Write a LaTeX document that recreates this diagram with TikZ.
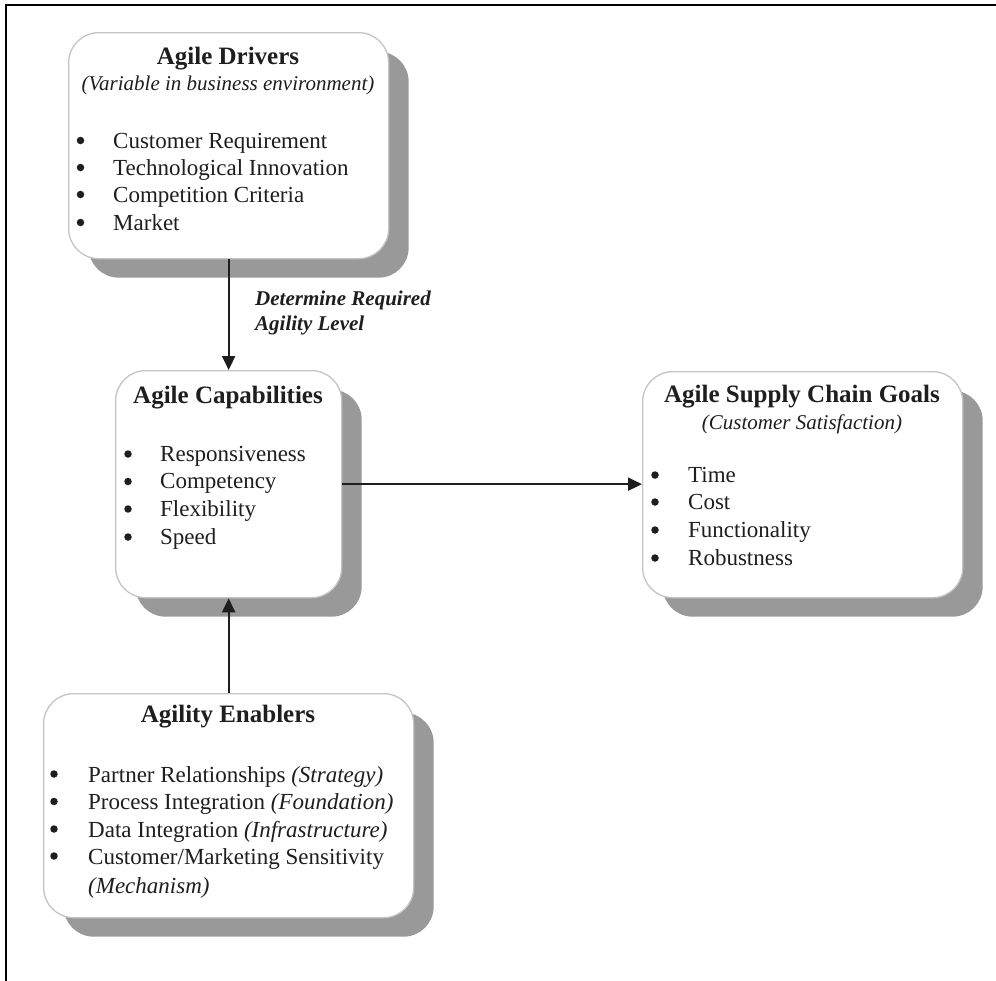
\documentclass[tikz,border=0pt]{standalone}
\usepackage{fontspec}
\setmainfont{Liberation Serif}
\usetikzlibrary{shadows,arrows.meta}

\definecolor{ink}{HTML}{1E1E1E}
\definecolor{edgegray}{HTML}{C4C4C4}
\definecolor{shadegray}{HTML}{999999}

\tikzset{
  panel/.style={draw=edgegray, line width=1.3pt, fill=white, rounded corners=30pt,
    anchor=north west, inner sep=0pt,
    drop shadow={shadow xshift=20pt, shadow yshift=-19pt, fill=shadegray, opacity=1}},
  heading/.style={font=\bfseries\fontsize{25}{30}\selectfont, text=ink, anchor=base, inner sep=0pt},
  subhead/.style={font=\itshape\fontsize{21}{25}\selectfont, text=ink, anchor=base, inner sep=0pt},
  item/.style={font=\fontsize{23}{28}\selectfont, text=ink, anchor=base west, inner sep=0pt},
  dot/.style={circle, fill=ink, minimum size=7.5pt, inner sep=0pt},
  note/.style={font=\bfseries\itshape\fontsize{21}{25}\selectfont, text=ink, anchor=mid west, inner sep=0pt},
  link/.style={draw=ink, line width=2pt, -{Triangle[length=14pt,width=13pt]}}
}

\begin{document}
\begin{tikzpicture}[x=1pt,y=-1pt]
\useasboundingbox (0,0) rectangle (996,980);

% outer frame (left and top edges)
\draw[black, line width=2.5pt] (6,985) -- (6,5) -- (1001,5);

% panels
\node[panel, minimum width=320pt, minimum height=226pt] (drivers) at (68,32) {};
\node[panel, minimum width=226pt, minimum height=227pt] (caps) at (115,370) {};
\node[panel, minimum width=320pt, minimum height=226pt] (goals) at (642,371) {};
\node[panel, minimum width=370pt, minimum height=224pt] (enablers) at (43,693) {};

% Agile Drivers
\node[heading] (dh) at (228,64) {Agile Drivers};
\node[subhead] (ds) at (228,90) {(Variable in business environment)};
\node[dot] (db1) at (80.5,140.5) {}; \node[item] (d1) at (113,148) {Customer Requirement};
\node[dot] (db2) at (80.5,167.5) {}; \node[item] (d2) at (113,175) {Technological Innovation};
\node[dot] (db3) at (80.5,194.5) {}; \node[item] (d3) at (113,202) {Competition Criteria};
\node[dot] (db4) at (80.5,222.5) {}; \node[item] (d4) at (113,230) {Market};

% Agile Capabilities
\node[heading] (ch) at (228,403) {Agile Capabilities};
\node[dot] (cb1) at (128,454) {}; \node[item] (c1) at (160,461) {Responsiveness};
\node[dot] (cb2) at (128,481.5) {}; \node[item] (c2) at (160,488.5) {Competency};
\node[dot] (cb3) at (128,509) {}; \node[item] (c3) at (160,516) {Flexibility};
\node[dot] (cb4) at (128,537) {}; \node[item] (c4) at (160,544) {Speed};

% Agile Supply Chain Goals
\node[heading] (gh) at (802,402) {Agile Supply Chain Goals};
\node[subhead] (gs) at (802,429) {(Customer Satisfaction)};
\node[dot] (gb1) at (655,475) {}; \node[item] (g1) at (688,482) {Time};
\node[dot] (gb2) at (655,502) {}; \node[item] (g2) at (688,509) {Cost};
\node[dot] (gb3) at (655,530) {}; \node[item] (g3) at (688,537) {Functionality};
\node[dot] (gb4) at (655,558) {}; \node[item] (g4) at (688,565) {Robustness};

% Agility Enablers
\node[heading] (eh) at (228,722) {Agility Enablers};
\node[dot] (eb1) at (54,774) {}; \node[item] (e1) at (88,782) {Partner Relationships \textit{(Strategy)}};
\node[dot] (eb2) at (54,801.5) {}; \node[item] (e2) at (88,809.5) {Process Integration \textit{(Foundation)}};
\node[dot] (eb3) at (54,829) {}; \node[item] (e3) at (88,837) {Data Integration \textit{(Infrastructure)}};
\node[dot] (eb4) at (54,856) {}; \node[item] (e4) at (88,864) {Customer/Marketing Sensitivity};
\node[item] (e5) at (88,893) {\textit{(Mechanism)}};

% connectors
\draw[link] (drivers.south) -- (caps.north);
\draw[link] (enablers.north) -- (caps.south);
\draw[link] (caps.east) -- (caps.east -| goals.west);

% connector label
\node[note] (l1) at (255,303) {Determine Required};
\node[note] (l2) at (255,328) {Agility Level};
\end{tikzpicture}
\end{document}
